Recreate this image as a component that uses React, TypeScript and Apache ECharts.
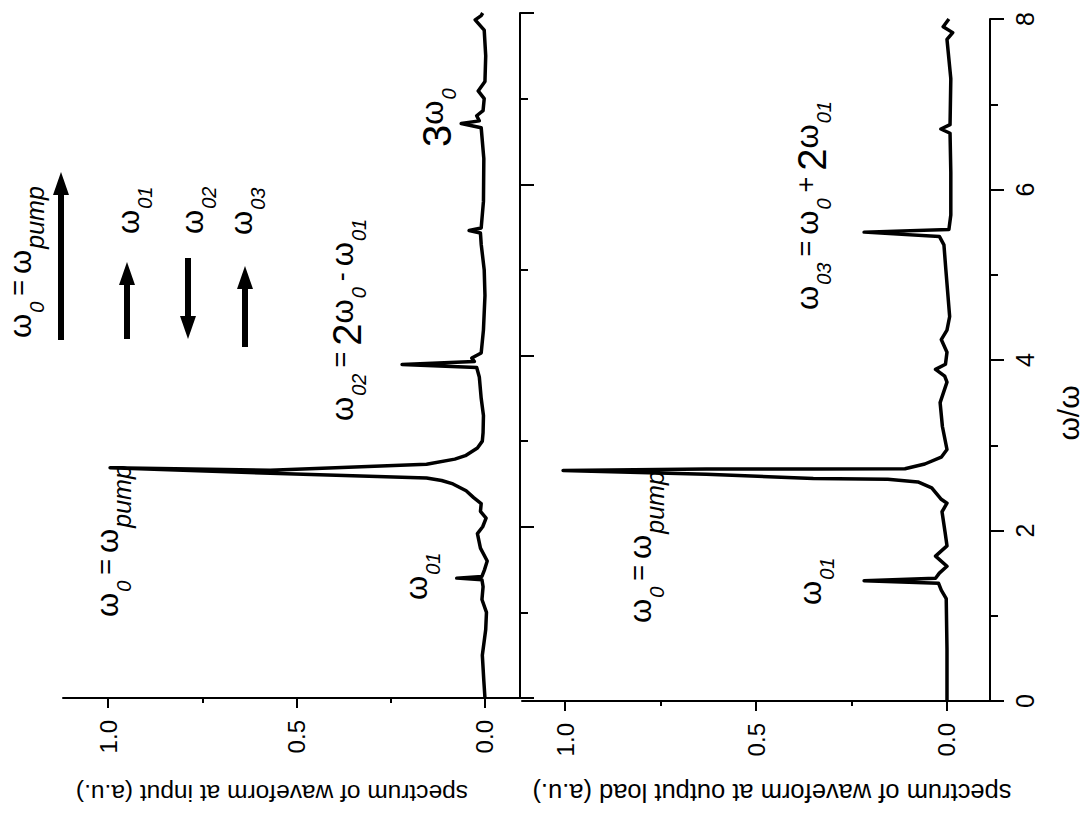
import React, { useEffect, useRef } from 'react';
import * as echarts from 'echarts';

// ---------- data (frequency ω/ω, spectrum a.u.) ----------
const inputFreq = [
  0.0, 0.2, 0.5, 0.8, 1.0, 1.15, 1.3, 1.38, 1.4, 1.42, 1.5, 1.6, 1.75, 1.92, 2.0, 2.1, 2.18, 2.27,
  2.34, 2.42, 2.5, 2.54, 2.57, 2.625, 2.69, 2.66, 2.73, 2.79, 2.83, 2.92, 3.0, 3.1, 3.3, 3.5, 3.75,
  3.86, 3.895, 3.93, 3.97, 4.03, 4.3, 4.7, 5.0, 5.3, 5.43, 5.46, 5.49, 5.8, 6.3, 6.66, 6.71,
  6.74, 6.8, 6.86, 7.0, 7.09, 7.2, 7.5, 7.8, 7.92, 7.97, 8.0,
];
const inputSpec = [
  0.0, 0.003, 0.007, -0.002, -0.004, 0.008, 0.005, 0.008, 0.075, 0.008, 0.001, -0.006, 0.012, 0.02, 0.006, -0.003, 0.012, 0.01,
  0.03, 0.05, 0.085, 0.115, 0.155, 0.57, 0.995, 0.57, 0.155, 0.08, 0.052, 0.02, 0.007, 0.005, 0.004, 0.01, 0.015,
  0.022, 0.22, 0.028, 0.035, 0.01, 0.004, 0.0, 0.002, 0.01, 0.012, 0.042, 0.01, 0.004, 0.003, 0.01, 0.063,
  0.015, 0.022, 0.005, 0.002, 0.018, 0.0, -0.002, 0.002, 0.026, 0.01, 0.006,
];
const outputFreq = [
  0.0, 0.6, 1.2, 1.3, 1.38, 1.41, 1.44, 1.5, 1.58, 1.7, 1.82, 1.98, 2.22, 2.32, 2.37, 2.5, 2.57,
  2.6, 2.61, 2.66, 2.705, 2.72, 2.72, 2.725, 2.78, 2.86, 2.95, 3.22, 3.5, 3.74, 3.81, 3.89, 3.95,
  4.09, 4.24, 4.35, 4.51, 5.06, 5.35, 5.45, 5.5, 5.53, 5.7, 6.2, 6.66, 6.71, 6.76, 7.3, 7.76,
  7.84, 7.91, 8.0,
];
const outputSpec = [
  0.0, 0.0, 0.002, 0.015, 0.022, 0.217, 0.03, 0.02, 0.0, 0.03, 0.0, 0.005, 0.013, 0.0, 0.016, 0.04, 0.076,
  0.155, 0.35, 0.63, 1.005, 0.63, 0.35, 0.11, 0.058, 0.015, 0.0, 0.012, 0.018, 0.0, 0.006, 0.03, 0.004,
  0.0, 0.015, 0.0, -0.007, 0.003, 0.008, 0.02, 0.217, -0.005, -0.01, -0.01, -0.008, 0.016, -0.008, -0.01, 0.0,
  -0.015, 0.01, -0.005,
];
const specLabelValues = [0, 0.5, 1.0];
const specMinorValues = [0.25, 0.75];
const freqMin = 0;
const freqMax = 8;
const freqInterval = 2;

const FONT = '"Liberation Sans", Arial, Helvetica, sans-serif';
const BLACK = '#000';

const rich = {
  w: { fontSize: 31, lineHeight: 30, verticalAlign: 'top', fontFamily: FONT, fill: BLACK },
  s: { fontSize: 20, lineHeight: 20, fontStyle: 'italic', padding: [22, 0, 0, 1], verticalAlign: 'top', fontFamily: FONT, fill: BLACK },
  p: { fontSize: 25, lineHeight: 24, fontStyle: 'italic', padding: [17, 0, 0, 1], verticalAlign: 'top', fontFamily: FONT, fill: BLACK },
  e: { fontSize: 27, lineHeight: 30, verticalAlign: 'top', padding: [0, 6, 0, 6], fontFamily: FONT, fill: BLACK },
  b: { fontSize: 40, lineHeight: 30, verticalAlign: 'top', fontFamily: FONT, fill: BLACK },
};

function label(text: string, cx: number, by: number) {
  return {
    type: 'text',
    x: cx - 18,
    y: by,
    rotation: Math.PI / 2,
    silent: true,
    style: {
      text,
      rich,
      fontFamily: FONT,
      fontSize: 30,
      fill: BLACK,
      align: 'left',
      verticalAlign: 'top',
      textAlign: 'left',
      textVerticalAlign: 'top',
    },
  };
}

function arrow(x: number, tailY: number, tipY: number) {
  const dir = tipY < tailY ? 1 : -1; // 1 = pointing up
  const headLen = 23;
  const baseY = tipY + dir * headLen;
  const shaftTop = Math.min(baseY, tailY);
  const shaftH = Math.abs(tailY - baseY);
  return [
    { type: 'rect', silent: true, shape: { x: x - 3, y: shaftTop, width: 6, height: shaftH }, style: { fill: BLACK } },
    {
      type: 'polygon',
      silent: true,
      shape: { points: [[x, tipY], [x - 8, baseY], [x + 8, baseY]] },
      style: { fill: BLACK },
    },
  ];
}

function plainText(text: string, x: number, y: number, rotation: number, fontSize: number) {
  return {
    type: 'text',
    x,
    y,
    rotation,
    silent: true,
    style: {
      text,
      fontFamily: FONT,
      fontSize,
      fill: BLACK,
      align: 'center',
      verticalAlign: 'middle',
      textAlign: 'center',
      textVerticalAlign: 'middle',
    },
  };
}

const axisLineStyle = { color: BLACK, width: 2 };

function specAxis(gridIndex: number, min: number, max: number, major: boolean) {
  return {
    gridIndex,
    type: 'value',
    position: 'bottom',
    inverse: true,
    min,
    max,
    axisLine: { show: major, onZero: false, lineStyle: axisLineStyle },
    axisTick: {
      show: true,
      inside: false,
      length: major ? 10 : 5,
      customValues: major ? specLabelValues : specMinorValues,
      lineStyle: axisLineStyle,
    },
    axisLabel: {
      show: major,
      customValues: specLabelValues,
      rotate: 90,
      margin: 22,
      fontSize: 24,
      color: BLACK,
      fontFamily: FONT,
      formatter: (v: number) => v.toFixed(1),
    },
    splitLine: { show: false },
  };
}

function freqAxis(gridIndex: number, showLabels: boolean) {
  return {
    gridIndex,
    type: 'value',
    position: 'right',
    min: freqMin,
    max: freqMax,
    interval: freqInterval,
    axisLine: { show: true, onZero: false, lineStyle: axisLineStyle },
    axisTick: { show: true, length: 14, lineStyle: axisLineStyle },
    minorTick: { show: true, splitNumber: 2, length: 8, lineStyle: axisLineStyle },
    axisLabel: {
      show: showLabels,
      rotate: 90,
      margin: 22,
      fontSize: 25,
      color: BLACK,
      fontFamily: FONT,
    },
    splitLine: { show: false },
    minorSplitLine: { show: false },
  };
}

export default function App() {
  const ref = useRef<HTMLDivElement>(null);
  useEffect(() => {
    document.body.style.margin = '0';
    const chart = echarts.init(ref.current!, null, { renderer: 'svg' });
    const inputData = inputFreq.map((f, i) => [inputSpec[i], f]);
    const outputData = outputFreq.map((f, i) => [outputSpec[i], f]);
    const option: any = {
      animation: false,
      backgroundColor: '#fff',
      grid: [
        { left: 63, top: 13, width: 457, height: 685, outerBoundsMode: 'none' },
        { left: 522, top: 19, width: 468, height: 682, outerBoundsMode: 'none' },
      ],
      xAxis: [
        specAxis(0, -0.093, 1.12, true),
        specAxis(0, -0.093, 1.12, false),
        specAxis(1, -0.1126, 1.1126, true),
        specAxis(1, -0.1126, 1.1126, false),
      ],
      yAxis: [freqAxis(0, false), freqAxis(1, true)],
      series: [
        {
          name: 'input',
          type: 'line',
          xAxisIndex: 0,
          yAxisIndex: 0,
          data: inputData,
          showSymbol: false,
          symbol: 'none',
          silent: true,
          clip: false,
          lineStyle: { color: BLACK, width: 3.5, join: 'round' },
        },
        {
          name: 'output',
          type: 'line',
          xAxisIndex: 2,
          yAxisIndex: 1,
          data: outputData,
          showSymbol: false,
          symbol: 'none',
          silent: true,
          clip: false,
          lineStyle: { color: BLACK, width: 3.5, join: 'round' },
        },
      ],
      graphic: {
        elements: [
          ...arrow(61, 340, 172),
          ...arrow(127, 339, 262),
          ...arrow(188, 258, 339),
          ...arrow(245, 347, 266),
          label('{w|ω}{s|0}{e|=}{w|ω}{p|pump}', 23, 338),
          label('{w|ω}{s|01}', 131, 234),
          label('{w|ω}{s|02}', 195, 234),
          label('{w|ω}{s|03}', 244, 235),
          label('{w|ω}{s|0}{e|=}{w|ω}{p|pump}', 110, 617),
          label('{w|ω}{s|01}', 419, 600),
          label('{w|ω}{s|02}{e|=}{b|2}{w|ω}{s|0}{e|-}{w|ω}{s|01}', 345, 421),
          label('{b|3}{w|ω}{s|0}', 435, 147),
          label('{w|ω}{s|0}{e|=}{w|ω}{p|pump}', 643, 623),
          label('{w|ω}{s|01}', 813, 605),
          label('{w|ω}{s|03}{e|=}{w|ω}{s|0}{e|+}{b|2}{w|ω}{s|01}', 810, 310),
          plainText('spectrum of waveform at input (a.u.)', 272, 793, Math.PI, 24.5),
          plainText('spectrum of waveform at output load (a.u.)', 772, 793, Math.PI, 25.5),
          plainText('ω/ω', 1068, 413, Math.PI / 2, 30),
        ],
      },
    };
    chart.setOption(option);
    return () => chart.dispose();
  }, []);
  return <div ref={ref} style={{ width: 1091, height: 817, background: '#fff' }} />;
}
